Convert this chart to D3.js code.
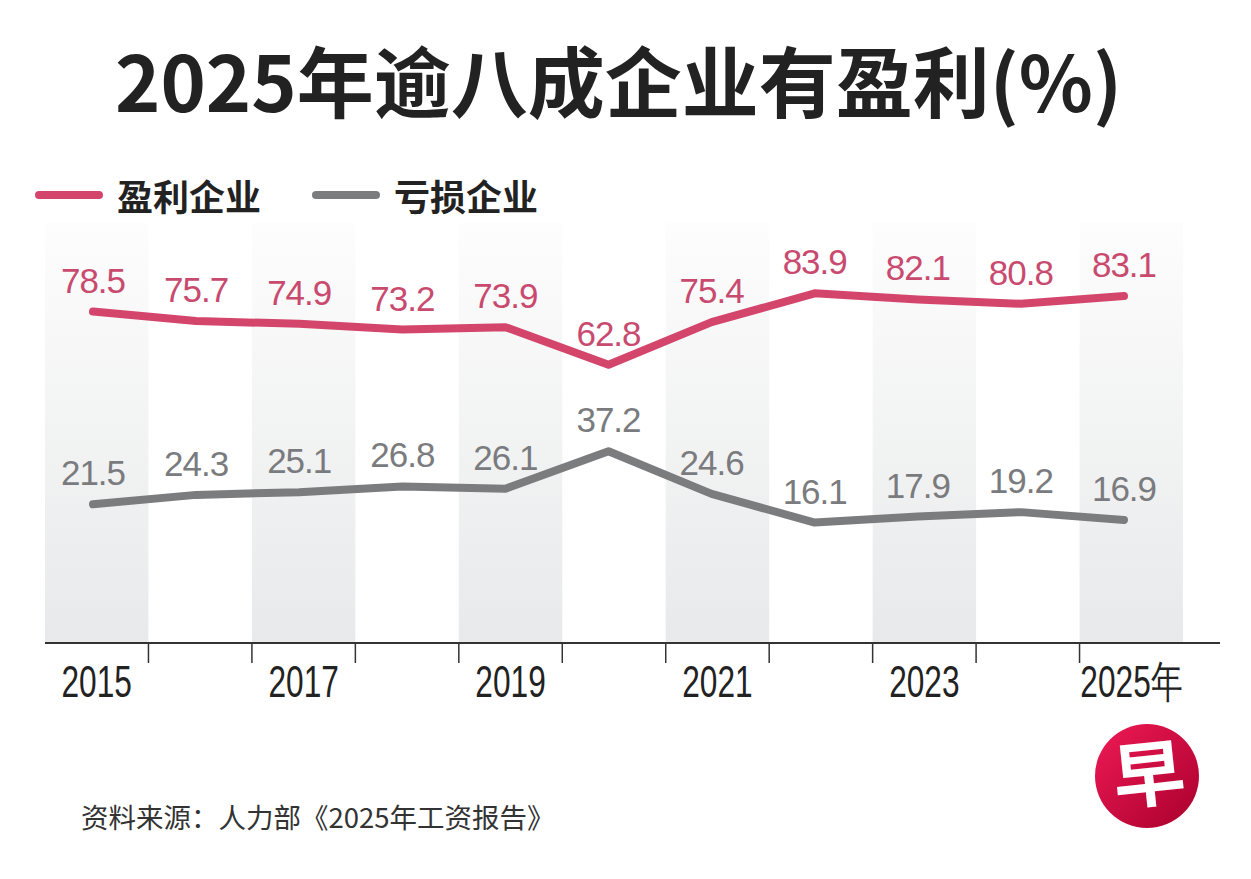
<!DOCTYPE html>
<html>
<head>
<meta charset="utf-8">
<script src="https://cdn.jsdelivr.net/npm/d3@7"></script>
<style>
  body { margin: 0; background: #fff; }
  text { font-family: "Liberation Sans", Arial, sans-serif; }
  .cjk { font-family: "Noto Sans CJK SC", "Noto Sans", sans-serif; }
</style>
</head>
<body>
<div id="chart"></div>
<script>
// data
var years = [2015, 2016, 2017, 2018, 2019, 2020, 2021, 2022, 2023, 2024, 2025];
var profitable = [78.5, 75.7, 74.9, 73.2, 73.9, 62.8, 75.4, 83.9, 82.1, 80.8, 83.1];
var lossMaking = [21.5, 24.3, 25.1, 26.8, 26.1, 37.2, 24.6, 16.1, 17.9, 19.2, 16.9];
var seriesNames = ["盈利企业", "亏损企业"];
var tickLabels = ["2015", "", "2017", "", "2019", "", "2021", "", "2023", "", "2025年"];

var svgWidth = 1251, svgHeight = 879;
var pink = "#d4456c", pinkText = "#c94a6f";
var grey = "#7b7c7e", greyText = "#7a7b7e";

var svg = d3.select("#chart")
    .append("svg")
    .attr("width", svgWidth)
    .attr("height", svgHeight);

var defs = svg.append("defs");
var bandGrad = defs.append("linearGradient")
    .attr("id", "bandGrad").attr("x1", 0).attr("y1", 0).attr("x2", 0).attr("y2", 1);
bandGrad.append("stop").attr("offset", "0%").attr("stop-color", "#fdfdfd");
bandGrad.append("stop").attr("offset", "100%").attr("stop-color", "#e8e9ea");

var logoGrad = defs.append("linearGradient")
    .attr("id", "logoGrad").attr("x1", 0).attr("y1", 0).attr("x2", 1).attr("y2", 1);
logoGrad.append("stop").attr("offset", "0%").attr("stop-color", "#ef1a55");
logoGrad.append("stop").attr("offset", "100%").attr("stop-color", "#a8002c");

// Title
svg.append("text")
    .attr("class", "cjk")
    .attr("x", 115)
    .attr("y", 112)
    .attr("font-size", 77)
    .attr("font-weight", 700)
    .attr("fill", "#222")
    .text("2025年逾八成企业有盈利(%)");

// Legend
var legend = svg.append("g");
[pink, grey].forEach(function(c, i) {
    var lx = i == 0 ? 35 : 312;
    legend.append("line")
        .attr("x1", lx + 4).attr("x2", lx + 64)
        .attr("y1", 195).attr("y2", 195)
        .attr("stroke", c).attr("stroke-width", 8)
        .attr("stroke-linecap", "round");
    legend.append("text")
        .attr("class", "cjk")
        .attr("x", lx + 82)
        .attr("y", 211)
        .attr("font-size", 36)
        .attr("font-weight", 700)
        .attr("fill", "#222")
        .text(seriesNames[i]);
});

// Scales
var xBand = d3.scaleBand()
    .domain(years)
    .range([45, 1183])
    .padding(0);

var xPoint = d3.scalePoint()
    .domain(years)
    .range([93, 1124]);

var yScale = d3.scaleLinear()
    .domain([-19.5, 104.7])
    .range([643, 223]);

// Alternating shaded columns (odd years)
svg.append("g").selectAll("rect")
    .data(years.filter(function(d) { return d % 2 == 1; }))
    .enter()
    .append("rect")
    .attr("x", function(d) { return xBand(d); })
    .attr("y", yScale.range()[1])
    .attr("width", xBand.bandwidth())
    .attr("height", yScale.range()[0] - yScale.range()[1])
    .attr("fill", "url(#bandGrad)");

// Lines
var line = d3.line()
    .x(function(d, i) { return xPoint(years[i]); })
    .y(function(d) { return yScale(d); });

[[lossMaking, grey], [profitable, pink]].forEach(function(s) {
    svg.append("path")
        .datum(s[0])
        .attr("d", line)
        .attr("fill", "none")
        .attr("stroke", s[1])
        .attr("stroke-width", 8)
        .attr("stroke-linecap", "round")
        .attr("stroke-linejoin", "round");
});

// Value labels
[[profitable, pinkText], [lossMaking, greyText]].forEach(function(s) {
    svg.append("g").selectAll("text")
        .data(s[0])
        .enter()
        .append("text")
        .attr("x", function(d, i) { return xPoint(years[i]); })
        .attr("y", function(d) { return yScale(d) - 19; })
        .attr("text-anchor", "middle")
        .attr("font-size", 35)
        .attr("letter-spacing", -1)
        .attr("fill", s[1])
        .text(function(d) { return d.toFixed(1); });
});

// X axis
var axisG = svg.append("g")
    .attr("transform", "translate(0, 643)");

axisG.append("line")
    .attr("x1", 45).attr("x2", 1220)
    .attr("y1", 0).attr("y2", 0)
    .attr("stroke", "#333").attr("stroke-width", 2);

axisG.selectAll(".sep")
    .data(years.slice(1))
    .enter()
    .append("line")
    .attr("class", "sep")
    .attr("x1", function(d) { return xBand(d); })
    .attr("x2", function(d) { return xBand(d); })
    .attr("y1", 0).attr("y2", 20)
    .attr("stroke", "#333").attr("stroke-width", 1.5);

var labelAxis = axisG.append("g")
    .call(d3.axisBottom(xBand)
        .tickSize(0)
        .tickFormat(function(d, i) { return tickLabels[i]; }));
labelAxis.select(".domain").remove();
labelAxis.selectAll(".tick text")
    .attr("y", null).attr("dy", null)
    .attr("font-family", "'Liberation Sans', 'Noto Sans CJK SC', sans-serif")
    .attr("font-size", 44)
    .attr("fill", "#222")
    .attr("transform", "translate(0, 54) scale(0.72, 1)");

// Source
svg.append("text")
    .attr("class", "cjk")
    .attr("x", 81)
    .attr("y", 828)
    .attr("font-size", 27.5)
    .attr("fill", "#333")
    .text("资料来源：人力部《2025年工资报告》");

// Logo
svg.append("circle")
    .attr("cx", 1147).attr("cy", 776).attr("r", 52)
    .attr("fill", "url(#logoGrad)");
svg.append("text")
    .attr("class", "cjk")
    .attr("x", 1149).attr("y", 801)
    .attr("text-anchor", "middle")
    .attr("font-size", 72)
    .attr("font-weight", 700)
    .attr("fill", "#fff")
    .attr("transform", "rotate(-6, 1147, 776)")
    .text("早");
</script>
</body>
</html>
